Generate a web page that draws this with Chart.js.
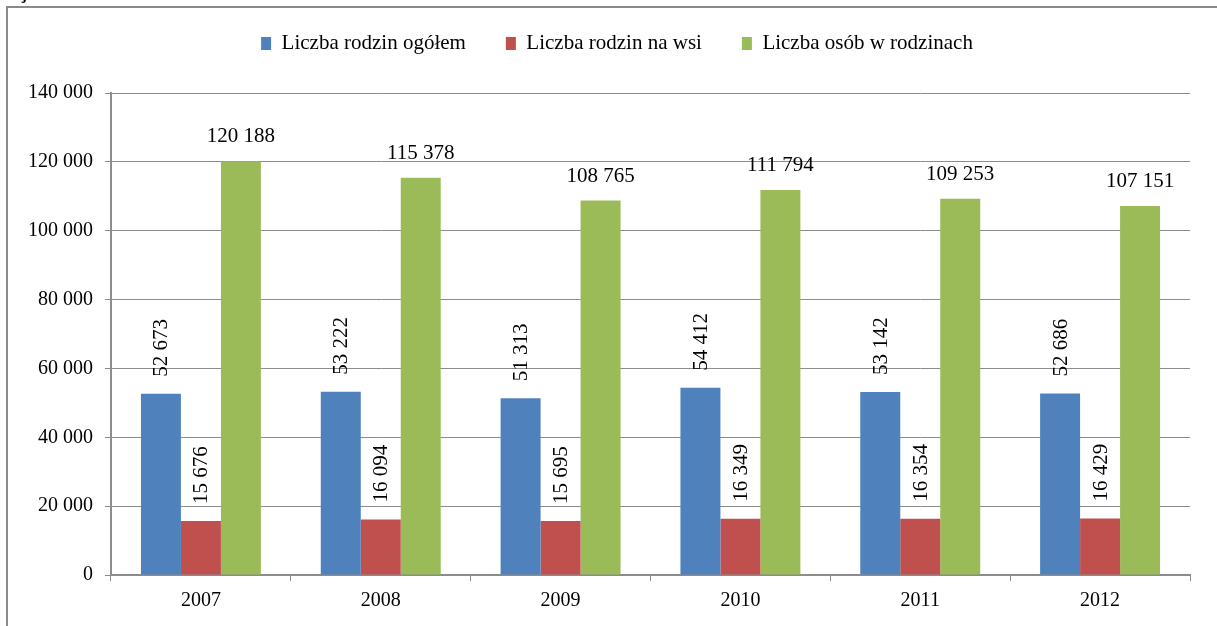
<!DOCTYPE html>
<html>
<head>
<meta charset="utf-8">
<script src="https://cdn.jsdelivr.net/npm/chart.js@4"></script>
<style>
  body { margin: 0; background: #fff; }
  #wrap { position: relative; width: 1217px; height: 626px; overflow: hidden; }
  #frame { position: absolute; left: 6px; top: 6px; width: 1300px; height: 700px;
           border-left: 2px solid #8a8a8a; border-top: 2px solid #8a8a8a; }
  #caption { position: absolute; left: 0; top: -13px; font: bold 15px "Liberation Serif", serif; color: #000; }
  canvas { position: absolute; left: 0; top: 0; }
</style>
</head>
<body>
<div id="wrap">
  <div id="caption">wiejskim w latach 2007-2012</div>
  <div id="frame"></div>
  <canvas id="chart" width="1217" height="626"></canvas>
</div>
<script>
// dane
var lata = ['2007', '2008', '2009', '2010', '2011', '2012'];
var rodzinyOgolem = [52673, 53222, 51313, 54412, 53142, 52686];
var rodzinyWies = [15676, 16094, 15695, 16349, 16354, 16429];
var osobyWRodzinach = [120188, 115378, 108765, 111794, 109253, 107151];

var nazwy = ['Liczba rodzin ogółem', 'Liczba rodzin na wsi', 'Liczba osób w rodzinach'];
var kolory = ['#4f81bd', '#c0504d', '#9bbb59'];

function fmt(n) {
    return n.toString().replace(/\B(?=(\d{3})+(?!\d))/g, ' ');
}

var czcionka = '"Liberation Serif", "Times New Roman", serif';
var szary = '#8c8c8c';

// etykiety wartosci nad slupkami
var etykiety = {
    id: 'etykiety',
    beforeInit: function(chart) {
        // wiecej miejsca pod legenda, legenda troche w prawo
        var leg = chart.legend;
        var fit = leg.fit;
        leg.fit = function() {
            fit.call(this);
            this.height += 29;
        };
        var draw = leg.draw;
        leg.draw = function() {
            this.ctx.save();
            this.ctx.translate(22, 0);
            draw.call(this);
            this.ctx.restore();
        };
    },
    afterDatasetsDraw: function(chart) {
        var ctx = chart.ctx;
        ctx.save();
        ctx.fillStyle = '#000';
        ctx.font = '21px ' + czcionka;
        chart.data.datasets.forEach(function(ds, i) {
            var meta = chart.getDatasetMeta(i);
            meta.data.forEach(function(bar, j) {
                var txt = fmt(ds.data[j]);
                if (i < 2) {
                    ctx.save();
                    ctx.translate(bar.x + 1, bar.y - 17);
                    ctx.rotate(-Math.PI / 2);
                    ctx.textAlign = 'left';
                    ctx.textBaseline = 'middle';
                    ctx.fillText(txt, 0, 0);
                    ctx.restore();
                } else {
                    ctx.textAlign = 'center';
                    ctx.textBaseline = 'alphabetic';
                    ctx.fillText(txt, bar.x, bar.y - 19);
                }
            });
        });
        ctx.restore();
    }
};

var datasets = [rodzinyOgolem, rodzinyWies, osobyWRodzinach].map(function(d, i) {
    return {
        label: nazwy[i],
        data: d,
        backgroundColor: kolory[i],
        borderWidth: 0,
        barPercentage: 1.0,
        categoryPercentage: 0.667
    };
});

new Chart(document.getElementById('chart'), {
    type: 'bar',
    data: { labels: lata, datasets: datasets },
    options: {
        responsive: false,
        animation: false,
        layout: { padding: { left: 0, right: 27, top: -7, bottom: 0 } },
        plugins: {
            legend: {
                position: 'top',
                labels: {
                    boxWidth: 10,
                    boxHeight: 13,
                    color: '#000',
                    font: { family: czcionka, size: 21 },
                    padding: 40
                }
            },
            tooltip: { enabled: false }
        },
        scales: {
            x: {
                grid: { display: true, drawOnChartArea: false, drawTicks: true, tickLength: 6, color: szary, offset: true },
                border: { color: szary, width: 2 },
                ticks: { color: '#000', font: { family: czcionka, size: 20 }, padding: 8 },
                afterFit: function(s) { s.height = 51; }
            },
            y: {
                min: 0,
                max: 140000,
                ticks: {
                    stepSize: 20000,
                    color: '#000',
                    font: { family: czcionka, size: 20 },
                    padding: 12,
                    callback: function(v) { return fmt(v); }
                },
                grid: { color: szary, tickLength: 6, lineWidth: 1 },
                border: { color: szary, width: 2 },
                afterFit: function(s) { s.width = 111; }
            }
        }
    },
    plugins: [etykiety]
});
</script>
</body>
</html>
